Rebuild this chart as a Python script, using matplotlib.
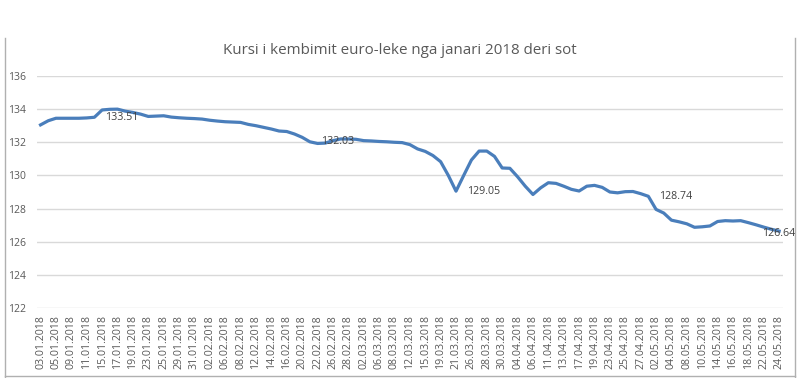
import matplotlib
matplotlib.use("Agg")
import matplotlib.pyplot as plt
from matplotlib.lines import Line2D

title = "Kursi i kembimit euro-leke nga janari 2018 deri sot"

tick_labels = ["03.01.2018", "05.01.2018", "09.01.2018", "11.01.2018", "15.01.2018",
               "17.01.2018", "19.01.2018", "23.01.2018", "25.01.2018", "29.01.2018",
               "31.01.2018", "02.02.2018", "06.02.2018", "08.02.2018", "12.02.2018",
               "14.02.2018", "16.02.2018", "20.02.2018", "22.02.2018", "26.02.2018",
               "28.02.2018", "02.03.2018", "06.03.2018", "08.03.2018", "12.03.2018",
               "15.03.2018", "19.03.2018", "21.03.2018", "26.03.2018", "28.03.2018",
               "30.03.2018", "04.04.2018", "06.04.2018", "11.04.2018", "13.04.2018",
               "17.04.2018", "19.04.2018", "23.04.2018", "25.04.2018", "27.04.2018",
               "02.05.2018", "04.05.2018", "08.05.2018", "10.05.2018", "14.05.2018",
               "16.05.2018", "18.05.2018", "22.05.2018", "24.05.2018"]

rates = [133.05, 133.30, 133.45, 133.45, 133.45, 133.45, 133.47, 133.51, 133.95, 133.99,
         134.00, 133.88, 133.80, 133.70, 133.56, 133.58, 133.60, 133.52, 133.48, 133.45,
         133.43, 133.40, 133.33, 133.28, 133.24, 133.22, 133.20, 133.08, 133.00, 132.90,
         132.80, 132.68, 132.65, 132.50, 132.30, 132.03, 131.93, 131.95, 132.10, 132.20,
         132.20, 132.18, 132.10, 132.08, 132.05, 132.03, 132.00, 131.98, 131.86, 131.60,
         131.45, 131.20, 130.83, 130.00, 129.05, 130.00, 130.93, 131.47, 131.47, 131.15,
         130.45, 130.43, 129.92, 129.35, 128.85, 129.25, 129.56, 129.52, 129.35, 129.16,
         129.06, 129.35, 129.40, 129.28, 129.00, 128.95, 129.02, 129.03, 128.90, 128.74,
         127.95, 127.73, 127.30, 127.20, 127.08, 126.87, 126.90, 126.95, 127.22, 127.27,
         127.25, 127.27, 127.15, 127.02, 126.88, 126.75, 126.64]

label_idx = [7, 35, 54, 79, 96]
y_ticks = [122, 124, 126, 128, 130, 132, 134, 136]

W, H = 800, 378
fig = plt.figure(figsize=(W / 100, H / 100), dpi=100)
plt.rcParams['font.family'] = ['Open Sans', 'DejaVu Sans']

left, right, top, bottom = 36.7, 783, 76, 308
ax = fig.add_axes([left / W, 1 - bottom / H, (right - left) / W, (bottom - top) / H])

x = list(range(len(rates)))
ax.plot(x, rates, color="#4a7ebb", lw=2.3, solid_joinstyle="round", zorder=3)

ax.set_xlim(-0.5, len(rates) - 0.5)
ax.set_ylim(122, 136)
ax.set_yticks(y_ticks)
ax.set_yticklabels([str(v) for v in y_ticks], fontsize=7.5, color="#595959")
ax.set_xticks(list(range(0, len(rates), 2)))
ax.set_xticklabels(tick_labels, rotation=90, fontsize=7.7, color="#595959")
ax.tick_params(axis="both", length=0)
ax.tick_params(axis="y", pad=8)
ax.tick_params(axis="x", pad=5)
ax.grid(axis="y", color="#d9d9d9", lw=1)
ax.set_axisbelow(True)
for s in ax.spines.values():
    s.set_visible(False)

for i in label_idx:
    if i == len(rates) - 1:
        ax.annotate(f"{rates[i]:.2f}", (i, rates[i]), xytext=(0, -2), textcoords="offset pixels",
                    ha="center", va="center", fontsize=7.7, color="#404040", zorder=4)
    else:
        ax.annotate(f"{rates[i]:.2f}", (i, rates[i]), xytext=(11, 0), textcoords="offset pixels",
                    ha="left", va="center", fontsize=7.7, color="#404040", zorder=4)

fig.text(0.5, 1 - 51 / H, title, ha="center", va="center", fontsize=10.9, color="#595959")

# chart frame (as in the Excel screenshot)
frame_col = "#b0b0b0"
fig.add_artist(Line2D([5 / W, 5 / W], [0.003, 1 - 38 / H], color=frame_col, lw=1))
fig.add_artist(Line2D([795 / W, 795 / W], [0.003, 1 - 38 / H], color=frame_col, lw=1))
fig.add_artist(Line2D([5 / W, 795 / W], [0.004, 0.004], color=frame_col, lw=1))

fig.savefig("out.png", dpi=100, facecolor="white")
